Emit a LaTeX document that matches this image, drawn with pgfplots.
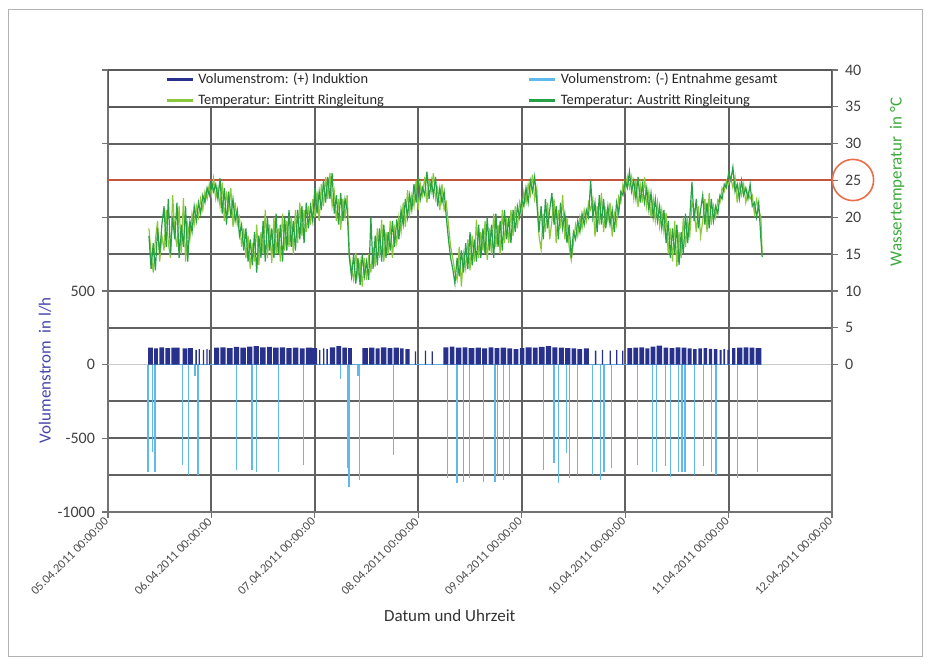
\documentclass[border=0pt]{standalone}
\usepackage{fontspec}
\setmainfont{Carlito}
\usepackage{pgfplots}
\usepackage{pgfplotstable}
\pgfplotsset{compat=1.18}
\definecolor{induk}{RGB}{40,50,140}
\definecolor{entn}{RGB}{95,185,235}
\definecolor{tin}{RGB}{140,200,60}
\definecolor{tout}{RGB}{40,160,70}
\definecolor{redline}{RGB}{195,85,60}
\definecolor{circ}{RGB}{235,110,75}
\definecolor{ylab}{RGB}{70,70,170}
\definecolor{tlab}{RGB}{60,170,60}
% h = hours since 05.04.2011 00:00; Tout = Austritt, Tin = Eintritt
\pgfplotstableread{
h Tout Tin
9.5 17.5 18.5
10.0 13.0 15.0
10.5 16.5 12.5
11.0 12.8 17.0
11.5 18.5 19.5
12.0 15.0 14.0
12.5 19.0 17.5
13.0 21.5 15.5
13.5 16.0 21.0
14.0 22.5 16.5
14.5 15.0 14.5
15.0 20.0 23.0
15.5 17.0 18.0
16.0 22.0 16.0
16.5 14.5 21.5
17.0 19.0 15.0
17.5 16.0 22.6
18.0 21.5 14.0
18.5 14.0 19.0
19.0 19.5 17.0
19.5 18.0 20.5
20.0 21.5 19.0
20.5 19.5 21.5
21.0 22.0 20.0
21.5 20.5 22.5
22.0 23.0 21.0
22.5 22.0 23.5
23.0 24.0 22.5
23.5 23.0 24.5
24.0 25.0 23.0
24.5 23.5 25.3
25.0 24.5 22.5
25.5 22.5 24.0
26.0 25.3 21.5
26.5 20.5 24.7
27.0 24.0 19.5
27.5 19.0 23.5
28.0 23.5 21.0
28.5 20.0 24.0
29.0 22.5 18.7
29.5 19.5 22.0
30.0 21.0 19.0
30.5 17.5 20.0
31.0 19.0 16.0
31.5 15.5 18.5
32.0 18.5 14.5
32.5 14.0 17.5
33.0 17.0 13.0
33.5 13.5 16.5
34.0 18.0 14.0
34.5 12.5 19.0
35.0 17.5 13.5
35.5 14.5 18.0
36.0 19.5 15.0
36.5 14.0 21.0
37.0 20.0 14.5
37.5 15.5 19.0
38.0 18.5 13.8
38.5 14.5 20.0
39.0 20.5 15.0
39.5 15.0 18.5
40.0 19.0 14.0
40.5 14.0 20.5
41.0 20.0 15.5
41.5 15.5 19.5
42.0 21.0 16.0
42.5 16.0 20.0
43.0 19.5 15.0
43.5 15.5 21.0
44.0 21.0 16.5
44.5 17.0 22.0
45.0 21.5 17.5
45.5 16.5 21.0
46.0 22.0 18.0
46.5 18.5 21.5
47.0 21.5 19.0
47.5 19.5 22.5
48.0 24.0 20.0
48.5 20.5 23.5
49.0 23.5 19.5
49.5 21.0 24.5
50.0 25.0 21.5
50.5 22.0 25.5
51.0 25.5 22.5
51.5 22.5 26.0
52.0 26.0 21.5
52.5 20.5 23.5
53.0 23.0 19.5
53.5 19.0 22.5
54.0 23.3 18.3
54.5 19.5 22.5
55.0 22.5 20.0
55.5 21.0 23.0
56.0 14.5 15.0
56.5 12.0 13.0
57.0 15.0 11.5
57.5 11.0 15.2
58.0 14.5 12.0
58.5 10.8 14.0
59.0 15.0 10.6
59.5 12.0 14.5
60.0 14.0 11.5
60.5 11.5 15.0
61.0 20.0 12.5
61.5 13.0 16.0
62.0 17.5 13.3
62.5 13.5 18.5
63.0 18.5 14.5
63.5 14.0 19.7
64.0 19.0 14.0
64.5 14.5 18.0
65.0 18.0 15.0
65.5 15.5 19.5
66.0 19.5 14.5
66.5 16.0 18.5
67.0 19.7 16.5
67.5 17.0 20.0
68.0 21.0 18.0
68.5 19.0 22.0
69.0 22.5 18.7
69.5 20.0 23.7
70.0 23.0 20.5
70.5 21.0 23.0
71.0 24.5 21.5
71.5 22.0 25.0
72.0 25.5 21.0
72.5 22.5 24.5
73.0 24.0 23.0
73.5 23.0 25.5
74.0 26.2 22.0
74.5 22.5 25.0
75.0 25.0 23.5
75.5 23.0 26.0
76.0 25.5 22.5
76.5 21.5 24.0
77.0 24.0 21.0
77.5 22.0 24.5
78.0 23.5 21.0
78.5 20.0 22.0
79.0 17.0 19.0
79.5 14.5 16.0
80.0 13.0 14.5
80.5 11.0 12.5
81.0 14.5 11.5
81.5 12.0 16.0
82.0 15.5 10.6
82.5 12.5 15.0
83.0 16.5 13.0
83.5 13.0 17.0
84.0 18.0 12.8
84.5 13.5 17.5
85.0 17.0 14.0
85.5 14.0 19.7
86.0 19.0 14.5
86.5 14.5 18.0
87.0 18.5 15.5
87.5 15.0 19.5
88.0 20.0 14.2
88.5 15.5 18.5
89.0 19.0 15.0
89.5 14.5 20.5
90.0 20.5 16.0
90.5 16.0 19.0
91.0 19.5 15.0
91.5 15.5 21.0
92.0 21.0 16.5
92.5 17.0 20.0
93.0 20.0 16.5
93.5 16.5 21.0
94.0 21.0 17.5
94.5 18.0 21.5
95.0 21.5 18.5
95.5 20.0 22.0
96.0 22.5 20.6
96.5 21.5 23.5
97.0 24.0 22.0
97.5 22.0 24.5
98.0 25.0 23.0
98.5 23.5 25.8
99.0 25.5 22.5
99.5 22.0 24.0
100.0 18.0 17.5
100.5 21.5 15.6
101.0 17.0 20.5
101.5 22.5 18.0
102.0 18.5 22.0
102.5 21.0 17.0
103.0 23.3 19.5
103.5 19.0 22.5
104.0 21.5 16.5
104.5 17.0 21.0
105.0 22.0 18.5
105.5 18.5 23.0
106.0 20.5 17.0
106.5 16.5 20.0
107.0 19.0 16.0
107.5 14.5 14.2
108.0 18.0 16.5
108.5 17.0 19.0
109.0 19.5 17.5
109.5 18.0 20.0
110.0 20.5 18.5
110.5 19.0 21.0
111.0 21.0 19.5
111.5 20.0 22.0
112.0 25.0 21.0
112.5 20.0 22.5
113.0 22.0 17.4
113.5 18.0 21.5
114.0 23.0 19.0
114.5 19.0 23.3
115.0 22.5 18.0
115.5 18.5 21.0
116.0 21.5 19.5
116.5 19.0 22.0
117.0 21.0 17.4
117.5 18.0 20.5
118.0 22.0 19.0
118.5 20.5 22.8
119.0 23.5 22.0
119.5 23.0 24.5
120.0 25.0 23.5
120.5 24.0 25.5
121.0 26.2 24.0
121.5 23.5 25.5
122.0 25.0 22.5
122.5 22.5 25.0
123.0 25.5 21.4
123.5 22.0 24.5
124.0 24.5 22.0
124.5 22.0 25.5
125.0 24.0 21.5
125.5 21.0 23.5
126.0 23.3 20.0
126.5 20.0 22.5
127.0 22.5 19.5
127.5 19.5 22.0
128.0 21.5 18.7
128.5 18.5 21.0
129.0 21.0 18.0
129.5 16.5 20.6
130.0 19.5 15.0
130.5 14.5 18.5
131.0 18.5 14.0
131.5 15.0 19.5
132.0 19.0 13.3
132.5 13.5 18.0
133.0 18.0 14.5
133.5 15.0 20.0
134.0 20.5 16.0
134.5 16.5 19.5
135.0 20.0 17.5
135.5 24.8 22.0
136.0 19.5 21.0
136.5 22.5 18.0
137.0 18.5 21.5
137.5 21.0 17.4
138.0 23.0 19.5
138.5 19.0 22.5
139.0 22.0 18.0
139.5 18.5 23.3
140.0 22.5 19.0
140.5 19.5 21.5
141.0 21.5 20.0
141.5 20.5 22.4
142.0 23.0 22.0
142.5 22.5 24.0
143.0 24.5 23.5
143.5 24.0 25.0
144.0 26.0 24.5
144.5 25.0 25.5
145.0 26.8 24.0
145.5 23.5 25.5
146.0 24.5 22.0
146.5 22.5 24.5
147.0 25.0 23.0
147.5 23.0 24.5
148.0 24.0 22.0
148.5 22.5 23.5
149.0 24.5 22.5
149.5 21.5 23.0
150.0 22.0 20.5
150.5 20.0 22.4
151.0 22.0 21.0
151.5 17.0 20.0
151.8 14.6 15.0
}\temps
\begin{document}
\begin{tikzpicture}
\useasboundingbox (0,0) rectangle (465pt,331.5pt);
\draw[black!30, line width=0.5pt] (4pt,3.5pt) rectangle (461pt,326.5pt);
\begin{axis}[
 at={(54pt,75.5pt)}, anchor=south west,
 scale only axis, width=362pt, height=221pt,
 xmin=0, xmax=168, ymin=-1000, ymax=2000,
 axis x line*=bottom, axis y line*=left,
 axis line style={black!55, line width=0.6pt},
 xtick={0,24,...,168},
 xticklabels={05.04.2011 00:00:00,06.04.2011 00:00:00,07.04.2011 00:00:00,08.04.2011 00:00:00,09.04.2011 00:00:00,10.04.2011 00:00:00,11.04.2011 00:00:00,12.04.2011 00:00:00},
 xticklabel style={rotate=45, anchor=east, font=\fontsize{6.2}{7}\selectfont, text=black!70, inner sep=1pt},
 ytick={-1000,-500,500,1000,1500,2000},
 yticklabels={-1000,-500,500,{},{},{}},
 extra y ticks={0}, extra y tick labels={0}, extra tick style={grid=none},
 minor ytick={-750,-250,250,750,1250,1750},
 tick align=outside, major tick length=3pt, minor tick length=0pt,
 tick style={black!55, line width=0.6pt},
 yticklabel style={font=\fontsize{8}{9}\selectfont, text=black!75},
 grid=both,
 major grid style={black!62, line width=1pt},
 minor grid style={black!62, line width=1pt},
 xlabel={Datum und Uhrzeit},
 xlabel style={at={(axis description cs:0.472,-0.235)}, anchor=center, font=\fontsize{8.5}{10}\selectfont, text=black!80},
 ylabel={Volumenstrom\ \ in l/h},
 ylabel style={at={(axis description cs:-0.087,0.321)}, anchor=center, font=\fontsize{8.5}{10}\selectfont, text=ylab},
]
\addplot[black!20, line width=0.8pt, forget plot] coordinates {(0,0) (168,0)};
\addplot[entn, line width=0.6pt, forget plot] coordinates {(9.3,0) (151.8,0)};
\addplot[ycomb, entn, line width=0.6pt, forget plot] coordinates {
(9.3,-730) (10.4,-590) (10.9,-730) (17.2,-680) (18.6,-750) (20.2,-80) (20.9,-750)
(29.9,-715) (33.4,-715) (34.4,-730) (39.5,-730) (45.3,-680) (53.9,-100) (55.5,-700)
(55.9,-830) (58.0,-80) (58.3,-780) (66.2,-610) (78.7,-770) (81.0,-800) (82.4,-795)
(83.8,-770) (87.1,-795) (89.8,-795) (90.3,-750) (91.7,-785) (93.1,-750) (101.0,-715)
(103.5,-670) (104.5,-800) (106.3,-600) (107.0,-770) (108.9,-750) (112.4,-750)
(114.2,-785) (115.1,-730) (116.8,-700) (122.8,-680) (126.3,-730) (127.2,-730)
(129.3,-690) (130.5,-760) (132.3,-730) (133.2,-730) (133.9,-730) (136.0,-750)
(138.1,-690) (140.0,-730) (141.1,-750) (146.0,-770) (150.7,-730)};
\addplot[const plot, fill=induk, draw=none, forget plot] coordinates {
(9.3,0) (9.3,115) (10.4,0) (10.7,110) (11.6,0) (11.9,118) (13.0,0) (13.3,112) (14.4,0) (14.7,115) (16.6,0)
(17.3,110) (18.4,0) (18.6,112) (19.7,0)
(20.3,100) (20.6,0) (21.0,105) (21.3,0) (22.0,100) (22.3,0) (22.8,105) (23.1,0) (23.4,100) (23.7,0)
(24.6,115) (25.8,0) (26.1,118) (27.3,0) (27.6,112) (28.9,0) (29.2,120) (30.4,0) (30.7,115) (32.0,0)
(32.3,122) (33.5,0) (33.8,125) (35.0,0) (35.3,118) (36.6,0) (36.9,120) (38.0,0) (38.3,115) (39.6,0)
(39.9,118) (41.1,0) (41.4,112) (42.6,0) (42.9,115) (44.2,0) (44.5,110) (45.6,0) (45.9,115) (47.4,0)
(47.5,112) (48.5,0)
(49.0,100) (49.3,0) (49.9,110) (50.2,0) (50.7,105) (51.0,0)
(51.5,118) (52.7,0) (53.0,125) (54.1,0) (54.4,115) (55.4,0) (55.7,112) (56.6,0)
(59.0,112) (60.3,0) (60.6,115) (61.8,0) (62.1,110) (63.0,0) (63.3,118) (64.6,0) (64.9,112) (66.0,0)
(66.3,115) (67.5,0) (67.8,110) (68.6,0) (69.0,105) (70.0,0)
(71.2,90) (71.5,0) (73.5,95) (73.8,0) (75.1,90) (75.4,0)
(77.8,118) (79.0,0) (79.3,122) (80.4,0) (80.7,115) (82.0,0) (82.3,118) (83.4,0) (83.7,112) (85.0,0)
(85.3,115) (86.5,0) (86.8,110) (88.0,0) (88.3,118) (89.4,0) (89.7,112) (90.8,0) (91.1,115) (92.4,0)
(92.7,110) (93.8,0) (94.1,105) (95.2,0) (95.6,112) (96.6,0) (96.9,118) (98.3,0)
(98.6,115) (99.7,0) (100.0,120) (101.3,0) (101.6,125) (102.8,0) (103.1,118) (104.3,0) (104.6,115) (105.8,0)
(106.1,112) (107.3,0) (107.6,110) (108.6,0) (108.9,105) (110.0,0) (110.4,110) (111.6,0)
(113.0,95) (113.3,0) (114.6,100) (114.9,0) (116.4,95) (116.7,0) (117.9,100) (118.2,0) (119.3,95) (119.6,0)
(120.5,112) (121.6,0) (121.9,115) (123.0,0) (123.3,118) (124.4,0) (124.7,110) (125.6,0) (125.9,122) (127.0,0)
(127.3,130) (128.6,0) (128.9,115) (130.0,0) (130.3,112) (131.4,0) (131.7,118) (132.8,0) (133.1,115) (134.2,0)
(134.5,110) (135.4,0) (135.8,105) (136.6,0) (137.0,110) (137.8,0) (138.2,112) (139.0,0) (139.4,108) (140.2,0)
(140.6,105) (141.4,0) (141.9,100) (142.4,0) (142.8,105) (143.2,0) (143.7,100) (144.2,0) (144.8,112) (145.6,0)
(146.0,115) (147.2,0) (147.5,118) (148.6,0) (148.9,115) (150.0,0) (150.3,112) (151.6,0)};
\end{axis}
\begin{axis}[
 at={(54pt,75.5pt)}, anchor=south west,
 scale only axis, width=362pt, height=221pt,
 xmin=0, xmax=168, ymin=-20, ymax=40,
 axis x line=none, axis y line*=right,
 axis line style={black!55, line width=0.6pt},
 ytick={0,5,...,40},
 tick align=outside, major tick length=3pt,
 tick style={black!55, line width=0.6pt},
 yticklabel style={font=\fontsize{8}{9}\selectfont, text=black!75},
 /pgf/number format/assume math mode=true,
 ylabel={Wassertemperatur\ \ in °C},
 ylabel style={at={(axis description cs:1.0898,0.747)}, anchor=center, font=\fontsize{8.5}{10}\selectfont, text=tlab},
 legend columns=2,
 legend cell align=left,
 legend style={draw=none, fill=none, inner sep=0pt, at={(axis description cs:0.0787,0.955)}, anchor=west,
   font=\fontsize{7.2}{8.5}\selectfont, text=black!85, row sep=0pt,
   /tikz/every even column/.append style={column sep=70pt}},
 legend image code/.code={\draw[#1, line width=1.5pt] (0pt,0pt) -- (13pt,0pt);},
]
\draw[black!65, line width=0.9pt, fill=white] (axis cs:0,35) rectangle (axis cs:168,40);
\addplot[redline, line width=1pt, forget plot] coordinates {(0,25) (168,25)};
\addlegendimage{induk}
\addlegendentry{Volumenstrom: (+) Induktion}
\addlegendimage{entn}
\addlegendentry{Volumenstrom: (-) Entnahme gesamt}
\addplot[tin, line width=0.6pt] table[x=h, y=Tin] {\temps};
\addlegendentry{Temperatur: Eintritt Ringleitung}
\addplot[tout, line width=0.6pt] table[x=h, y=Tout] {\temps};
\addlegendentry{Temperatur: Austritt Ringleitung}
\end{axis}
\draw[circ, line width=0.8pt] (426.5pt,241.5pt) circle (10.3pt);
\end{tikzpicture}
\end{document}
